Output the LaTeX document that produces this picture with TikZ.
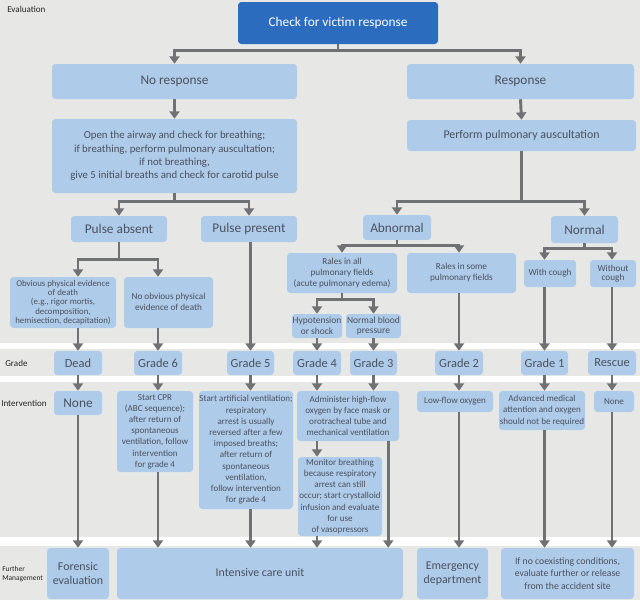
\documentclass[tikz,border=0pt]{standalone}
\usepackage{fontspec}
\setmainfont{Carlito}
\usetikzlibrary{arrows.meta}
\definecolor{bggray}{HTML}{E7E8E6}
\definecolor{boxblue}{HTML}{AECBEA}
\definecolor{darkblue}{HTML}{2B6CBF}
\definecolor{arrgray}{HTML}{707172}
\definecolor{txt}{HTML}{4B515D}
\newcommand\mybox[7]{\node[box,#6,minimum width={(#4-#2)*0.75pt},minimum height={(#5-#3)*0.75pt}] (#1) at ({(#2+#4)/2},{(#3+#5)/2}) {#7};}
\newcommand\uptext[2]{\raisebox{#1}{\begin{tabular}{@{}c@{}}#2\end{tabular}}}
\begin{document}
\begin{tikzpicture}[x=0.75pt,y=-0.75pt,
  box/.style={fill=boxblue,rounded corners=2.5pt,inner sep=0pt,align=center,text=txt},
  dark/.style={fill=darkblue,text=white},
  fL/.style={font=\fontsize{10}{12}\selectfont},
  fG/.style={font=\fontsize{9.3}{11}\selectfont},
  fM/.style={font=\fontsize{8.9}{10.5}\selectfont},
  fA/.style={font=\fontsize{8.1}{10}\selectfont},
  fS/.style={font=\fontsize{6.8}{8.4}\selectfont},
  fO/.style={font=\fontsize{6.6}{7}\selectfont},
  fR/.style={font=\fontsize{6.9}{8.25}\selectfont},
  fW/.style={font=\fontsize{6.9}{6.6}\selectfont},
  fH/.style={font=\fontsize{7.1}{8.2}\selectfont},
  fF/.style={font=\fontsize{7.3}{9.2}\selectfont},
  lab/.style={anchor=west,inner sep=0pt,text=black!85,font=\fontsize{6.8}{8}\selectfont},
  arr/.style={draw=arrgray,line width=2.2pt,-{Triangle[width=7.5pt,length=5.5pt]}},
  ln/.style={draw=arrgray,line width=2.2pt}]
\useasboundingbox (0,0) rectangle (640,600);
\fill[white] (0,0) rectangle (640,600);
\fill[bggray] (0,0) rectangle (640,343);
\fill[bggray] (0,349) rectangle (640,376);
\fill[bggray] (0,382) rectangle (640,537);
\fill[bggray] (0,546) rectangle (640,600);
% row labels
\node[lab] (lEval) at (7,9) {Evaluation};
\node[lab] (lGrade) at (5,363) {Grade};
\node[lab] (lInt) at (1,403) {Intervention};
\node[lab,align=left,font=\fontsize{5.6}{7.4}\selectfont] (lFur) at (2,574) {Further\\Management};
% evaluation
\mybox{check}{238}{2}{438}{44}{dark,fL}{Check for victim response}
\mybox{noresp}{52}{64}{297}{99}{fL}{No response}
\mybox{resp}{407}{64}{634}{99}{fL}{Response}
\mybox{airway}{52}{119}{297}{193}{fA}{Open the airway and check for breathing;\\if breathing, perform pulmonary auscultation;\\if not breathing,\\give 5 initial breaths and check for carotid pulse}
\mybox{perform}{407}{120}{636}{151}{fM}{Perform pulmonary auscultation}
\mybox{pabs}{71}{216}{167}{242}{fL}{Pulse absent}
\mybox{ppres}{201}{216}{297}{242}{fL}{Pulse present}
\mybox{abn}{363}{215}{431}{240}{fL}{Abnormal}
\mybox{norm}{551}{216}{618}{243}{fL}{Normal}
\mybox{obv}{10}{277}{116}{328}{fO}{Obvious physical evidence\\of death\\(e.g., rigor mortis,\\decomposition,\\hemisection, decapitation)}
\mybox{nobv}{124}{277}{213}{328}{fR}{\uptext{2.25pt}{No obvious physical\\evidence of death}}
\mybox{ralesall}{287}{253}{397}{293}{fR}{Rales in all\\pulmonary fields\\(acute pulmonary edema)}
\mybox{ralessome}{407}{253}{516}{293}{fR}{\uptext{1.5pt}{Rales in some\\pulmonary fields}}
\mybox{withc}{524}{260}{576}{287}{fR}{With cough}
\mybox{withoutc}{590}{260}{636}{287}{fW}{Without\\cough}
\mybox{hypo}{292}{314}{342}{338}{fH}{Hypotension\\or shock}
\mybox{nbp}{346}{314}{401}{338}{fH}{Normal blood\\pressure}
% grades
\mybox{dead}{54}{351}{102}{375}{fG}{Dead}
\mybox{g6}{134}{351}{182}{375}{fG}{Grade 6}
\mybox{g5}{227}{351}{274}{375}{fG}{Grade 5}
\mybox{g4}{293}{351}{341}{375}{fG}{Grade 4}
\mybox{g3}{350}{351}{397}{375}{fG}{Grade 3}
\mybox{g2}{435}{351}{483}{375}{fG}{Grade 2}
\mybox{g1}{521}{351}{568}{375}{fG}{Grade 1}
\mybox{rescue}{588}{351}{636}{375}{fG}{Rescue}
% interventions
\mybox{none1}{54}{391}{102}{415}{fL}{None}
\mybox{cpr}{117}{391}{193}{472}{fS}{Start CPR\\(ABC sequence);\\after return of\\spontaneous\\ventilation, follow\\intervention\\for grade 4}
\mybox{art}{199}{391}{293}{509}{fS}{Start artificial ventilation;\\respiratory\\arrest is usually\\reversed after a few\\imposed breaths;\\after return of\\spontaneous\\ventilation,\\follow intervention\\for grade 4}
\mybox{admin}{297}{391}{399}{441}{fS}{Administer high-flow\\oxygen by face mask or\\orotracheal tube and\\mechanical ventilation}
\mybox{monitor}{298}{457}{382}{536}{fS}{Monitor breathing\\because respiratory\\arrest can still\\occur; start crystalloid\\infusion and evaluate\\for use\\of vasopressors}
\mybox{lowflow}{417}{391}{493}{412}{fS}{Low-flow oxygen}
\mybox{adv}{499}{391}{585}{430}{fS}{Advanced medical\\attention and oxygen\\should not be required}
\mybox{none2}{594}{391}{634}{412}{fS}{None}
% further management
\mybox{forensic}{47}{548}{109}{599}{fM}{Forensic\\evaluation}
\mybox{icu}{117}{548}{403}{599}{fM}{\uptext{2pt}{Intensive care unit}}
\mybox{emerg}{417}{548}{488}{599}{fM}{Emergency\\department}
\mybox{ifno}{501}{548}{634}{599}{fF}{If no coexisting conditions,\\evaluate further or release\\from the accident site}
\coordinate (adminr) at ([xshift=-8.25pt]admin.south east);
% connectors: evaluation
\draw[arr] (check.south) -- ++(0,6) -| (noresp.north);
\draw[arr] (check.south) -- ++(0,6) -| (resp.north);
\draw[arr] (noresp.south) -- (airway.north);
\draw[arr] (resp.south) -- (perform.north);
\draw[arr] (airway.south) -- ++(0,8) -| (pabs.north);
\draw[arr] (airway.south) -- ++(0,8) -| (ppres.north);
\draw[arr] (perform.south) -- ++(0,50) -| (abn.north);
\draw[arr] (perform.south) -- ++(0,50) -| (norm.north);
\draw[arr] (pabs.south) -- ++(0,17) -| (obv.north -| dead.north);
\draw[arr] (pabs.south) -- ++(0,17) -| (nobv.north -| g6.north);
\draw[arr] (abn.south) -- ++(0,5) -| (ralesall.north);
\draw[arr] (abn.south) -- ++(0,5) -| (ralessome.north -| g2.north);
\draw[arr] (norm.south) -- ++(0,5) -| (withc.north -| g1.north);
\draw[arr] (norm.south) -- ++(0,5) -| (withoutc.north -| rescue.north);
\draw[arr] (ralesall.south) -- ++(0,6) -| (hypo.north -| g4.north);
\draw[arr] (ralesall.south) -- ++(0,6) -| (nbp.north -| g3.north);
% into grades
\draw[arr] (obv.south -| dead.north) -- (dead.north);
\draw[arr] (nobv.south -| g6.north) -- (g6.north);
\draw[arr] (ppres.south -| g5.north) -- (g5.north);
\draw[arr] (hypo.south -| g4.north) -- (g4.north);
\draw[arr] (nbp.south -| g3.north) -- (g3.north);
\draw[arr] (ralessome.south -| g2.north) -- (g2.north);
\draw[arr] (withc.south -| g1.north) -- (g1.north);
\draw[arr] (withoutc.south -| rescue.north) -- (rescue.north);
% grades to interventions
\draw[arr] (dead.south) -- (none1.north);
\draw[arr] (g6.south) -- (g6.south |- cpr.north);
\draw[arr] (g5.south) -- (g5.south |- art.north);
\draw[arr] (g4.south) -- (g4.south |- admin.north);
\draw[arr] (g3.south) -- (g3.south |- admin.north);
\draw[arr] (g2.south) -- (g2.south |- lowflow.north);
\draw[arr] (g1.south) -- (g1.south |- adv.north);
\draw[arr] (rescue.south) -- (rescue.south |- none2.north);
\draw[arr] (admin.south -| g4.south) -- (monitor.north -| g4.south);
% interventions to further management
\draw[arr] (none1.south) -- (forensic.north);
\draw[arr] (cpr.south -| g6.south) -- (icu.north -| g6.south);
\draw[arr] (art.south -| g5.south) -- (icu.north -| g5.south);
\draw[arr] (monitor.south -| g4.south) -- (icu.north -| g4.south);
\draw[arr] (adminr) -- (adminr |- icu.north);
\draw[arr] (lowflow.south -| g2.south) -- (emerg.north -| g2.south);
\draw[arr] (adv.south -| g1.south) -- (ifno.north -| g1.south);
\draw[arr] (none2.south -| rescue.south) -- (ifno.north -| rescue.south);
\end{tikzpicture}
\end{document}
